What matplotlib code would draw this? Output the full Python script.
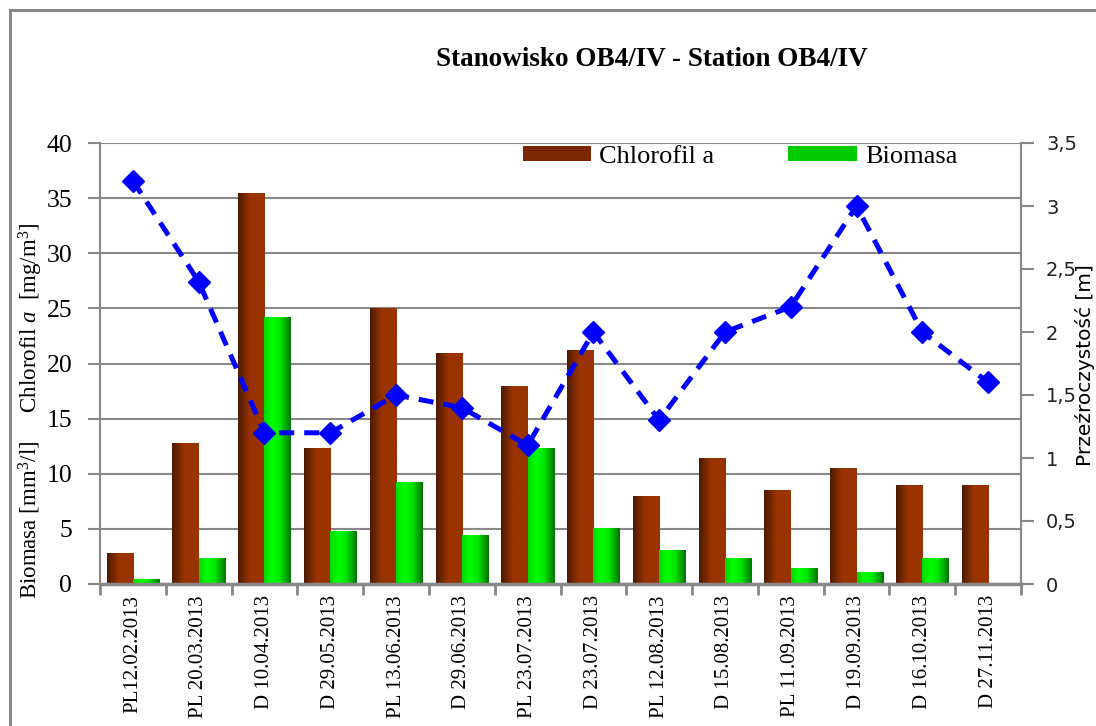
import numpy as np
import matplotlib
matplotlib.use("Agg")
import matplotlib.pyplot as plt
from matplotlib.patches import Rectangle, Patch

# dane ze stanowiska OB4/IV
daty = ["PL12.02.2013", "PL 20.03.2013", "D 10.04.2013", "D 29.05.2013",
        "PL 13.06.2013", "D 29.06.2013", "PL 23.07.2013", "D 23.07.2013",
        "PL 12.08.2013", "D 15.08.2013", "PL 11.09.2013", "D 19.09.2013",
        "D 16.10.2013", "D 27.11.2013"]
chlorofil = [2.8, 12.7, 35.4, 12.3, 25.0, 20.9, 17.9, 21.2, 7.9, 11.4, 8.5, 10.5, 8.9, 8.9]
biomasa = [0.45, 2.3, 24.2, 4.8, 9.2, 4.4, 12.3, 5.0, 3.0, 2.3, 1.45, 1.0, 2.3, 0.0]
przezroczystosc = [3.2, 2.4, 1.2, 1.2, 1.5, 1.4, 1.1, 2.0, 1.3, 2.0, 2.2, 3.0, 2.0, 1.6]
lewe_ticki = [0, 5, 10, 15, 20, 25, 30, 35, 40]
prawe_ticki = [0, 0.5, 1, 1.5, 2, 2.5, 3, 3.5]
prawe_etykiety = ["0", "0,5", "1", "1,5", "2", "2,5", "3", "3,5"]

plt.rcParams['mathtext.fontset'] = 'custom'
plt.rcParams['mathtext.rm'] = 'Liberation Serif'
plt.rcParams['mathtext.it'] = 'Liberation Serif:italic'
serif = 'Liberation Serif'
szary = '#888888'


def gradient_bars(ax, bars, pos, colors):
    # poziomy gradient w kazdym slupku
    t = np.linspace(0, 1, 64)
    cols = np.array([np.interp(t, pos, [c[i] for c in colors]) for i in range(3)]).T
    img = cols[np.newaxis, :, :]
    for b in bars:
        x, y = b.get_x(), b.get_y()
        w, h = b.get_width(), b.get_height()
        if not h > 0:
            continue
        ax.imshow(img, extent=(x, x + w, y, y + h), aspect='auto',
                  zorder=2, interpolation='bilinear')
        b.set_facecolor('none')


fig = plt.figure(figsize=(10.96, 7.26), dpi=100)
ax = fig.add_axes([100 / 1096, 142 / 726, 921 / 1096, 441 / 726])

x = np.arange(len(daty))
b1 = ax.bar(x - 0.2, chlorofil, 0.4, color='#993300', linewidth=0, zorder=2)
b2 = ax.bar(x + 0.2, biomasa, 0.4, color='#00ee00', linewidth=0, zorder=2)
gradient_bars(ax, b1, [0, 0.45, 1],
              [(0.30, 0.10, 0.0), (0.60, 0.20, 0.0), (0.60, 0.20, 0.0)])
gradient_bars(ax, b2, [0, 0.3, 0.6, 1],
              [(0.0, 0.85, 0.0), (0.0, 1.0, 0.0), (0.0, 0.9, 0.0), (0.0, 0.45, 0.0)])

ax.set_xlim(-0.5, len(daty) - 0.5)
ax.set_ylim(0, 40)
ax.set_yticks(lewe_ticki)
ax.set_yticklabels([str(v) for v in lewe_ticki], fontfamily=serif, fontsize=18.5)
ax.tick_params(axis='y', length=9, color=szary, width=1.5, pad=11)
ax.yaxis.grid(True, color=szary, linewidth=1.5, zorder=0)
ax.set_axisbelow(True)

ax.set_xticks(x)
ax.set_xticklabels(daty, rotation=90, fontfamily=serif, fontsize=15, va='top')
ax.set_xticks(np.arange(len(daty) + 1) - 0.5, minor=True)
ax.tick_params(axis='x', which='major', length=0, pad=8)
ax.tick_params(axis='x', which='minor', length=8, color=szary, width=2)

for s in ['left', 'bottom', 'right']:
    ax.spines[s].set_color(szary)
    ax.spines[s].set_linewidth(1.5)
ax.spines['bottom'].set_linewidth(2.5)
ax.spines['top'].set_visible(False)

# os prawa - przezroczystosc
ax2 = ax.twinx()
ax2.plot(x, przezroczystosc, color='#0000ff', linewidth=3.6, linestyle=(0, (3, 2)),
         marker='D', markersize=11, zorder=5)
ax2.set_ylim(0, 3.5)
ax2.set_yticks(prawe_ticki)
ax2.set_yticklabels(prawe_etykiety, fontfamily='DejaVu Sans', fontsize=14, color='#222222')
ax2.tick_params(axis='y', length=9, color=szary, width=1.5, pad=9)
for s in ['left', 'bottom', 'top']:
    ax2.spines[s].set_visible(False)
ax2.spines['right'].set_color(szary)
ax2.spines['right'].set_linewidth(1.5)

# legenda
uchwyty = [Patch(facecolor='#7a2600', edgecolor='none'),
           Patch(facecolor='#00cc00', edgecolor='none')]
fig.legend(uchwyty, ['Chlorofil a', 'Biomasa'], loc='center left',
           bbox_to_anchor=(499 / 1096, 1 - 157 / 726), ncol=2, frameon=False,
           prop={'family': serif, 'size': 19}, handlelength=2.6, handleheight=0.5,
           handletextpad=0.3, columnspacing=2.8)

fig.text(652 / 1096, 1 - 60 / 726, "Stanowisko OB4/IV - Station OB4/IV",
         ha='center', va='center', fontfamily=serif, fontweight='bold', fontsize=19.5)
fig.text(31 / 1096, 1 - 411 / 726,
         r"Biomasa [mm$^3$/l]     Chlorofil $\mathit{a}$  [mg/m$^3$]",
         rotation=90, ha='center', va='center', fontfamily=serif, fontsize=16.5)
fig.text(1075 / 1096, 1 - 365 / 726, "Przeźroczystość [m]", rotation=90,
         ha='left', va='center', fontfamily='DejaVu Sans', fontsize=14.5)

# ramka wykresu
fig.patches.append(Rectangle((9.5 / 1096, -0.1), 1.2, 1 - 9.5 / 726 + 0.1,
                             transform=fig.transFigure, fill=False,
                             edgecolor=szary, linewidth=2.2))

fig.savefig("out.png", dpi=100)
